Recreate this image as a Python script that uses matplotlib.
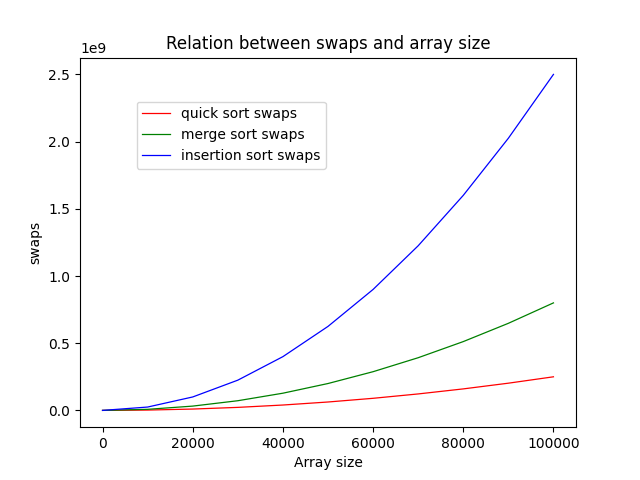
import matplotlib
matplotlib.use('Agg')
import matplotlib.pyplot as plt

sizes = [0, 10000, 20000, 30000, 40000, 50000, 60000, 70000, 80000, 90000, 100000]
quick_swaps = [0, 0.0025e9, 0.01e9, 0.0225e9, 0.04e9, 0.0625e9, 0.09e9, 0.1225e9, 0.16e9, 0.2025e9, 0.25e9]
merge_swaps = [0, 0.008e9, 0.032e9, 0.072e9, 0.128e9, 0.2e9, 0.288e9, 0.392e9, 0.512e9, 0.648e9, 0.8e9]
insertion_swaps = [0, 0.025e9, 0.1e9, 0.225e9, 0.4e9, 0.625e9, 0.9e9, 1.225e9, 1.6e9, 2.025e9, 2.5e9]

fig, ax = plt.subplots(figsize=(6.4, 4.8), dpi=100)
ax.plot(sizes, quick_swaps, color='red', linewidth=0.9, label='quick sort swaps')
ax.plot(sizes, merge_swaps, color='green', linewidth=0.9, label='merge sort swaps')
ax.plot(sizes, insertion_swaps, color='blue', linewidth=0.9, label='insertion sort swaps')
ax.set_title('Relation between swaps and array size')
ax.set_xlabel('Array size')
ax.set_ylabel('swaps')
ax.legend(loc='upper left', bbox_to_anchor=(0.1, 0.9))
plt.savefig('out.png')
